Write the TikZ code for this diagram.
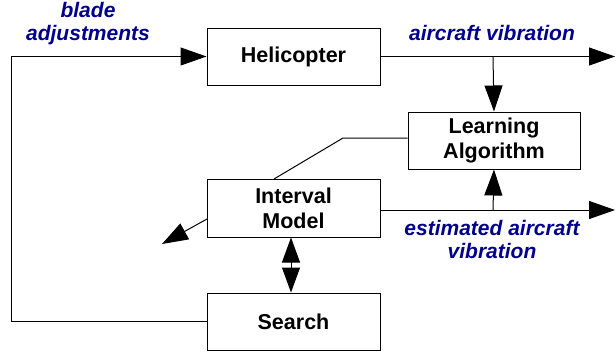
\documentclass[tikz,border=0pt]{standalone}
\usepackage{fontspec}
\setmainfont{Liberation Sans}
\usetikzlibrary{arrows.meta}
\definecolor{lblblue}{RGB}{0,0,140}
\begin{document}
\begin{tikzpicture}[x=1pt,y=-1pt,
  box/.style={draw=black,line width=1pt,minimum width=173pt,inner sep=0pt,align=center,
    font=\fontsize{21.5}{25}\selectfont\bfseries},
  conn/.style={line width=1pt,draw=black},
  tip/.style={-{Triangle[length=26pt,width=18pt]}},
  lbl/.style={text=lblblue,font=\fontsize{21}{23}\selectfont\bfseries\itshape,align=center,inner sep=0pt}]
\useasboundingbox (0,0) rectangle (615,356);
\node[box,minimum height=57pt] (heli) at (293.5,56.5) {Helicopter};
\node[box,minimum height=57pt,minimum width=172pt] (learn) at (494,140.5) {Learning\\Algorithm};
\node[box,minimum height=58pt] (model) at (293.5,208) {Interval\\Model};
\node[box,minimum height=57pt] (search) at (293.5,321.5) {Search};
\coordinate (outA) at (615,56.5);
\coordinate (outB) at (615,210);
\coordinate (brA) at (493,56.5);
\coordinate (brB) at (493,210);
\coordinate (loopT) at (11,56.5);
\coordinate (loopB) at (11,321.5);
\coordinate (diagA) at (274,179);
\coordinate (diagB) at (343,138);
\coordinate (freeend) at (162,244);
\coordinate (mdl) at (207,219);
% labels
\node[lbl] (lblade) at (88,24) {blade\\adjustments};
\node[lbl] (lair) at (492,33) {aircraft vibration};
\node[lbl] (lest) at (492,239) {estimated aircraft\\vibration};
% connectors
\draw[conn,tip] (heli.east) -- (outA);
\draw[conn,tip] (brA) -- (learn.north);
\draw[conn,tip] (model.east|-outB) -- (outB);
\draw[conn,tip] (brB) -- (learn.south);
\draw[conn,tip] (search.west) -- (loopB) -- (loopT) -- (heli.west);
\draw[conn] (diagA) -- (diagB) -- (learn.west|-diagB);
\draw[conn,tip] (mdl) -- (freeend);
\draw[conn,{Triangle[length=25pt,width=18pt]}-{Triangle[length=25pt,width=18pt]}] (model.south-|291,0) -- (search.north-|291,0);
\end{tikzpicture}
\end{document}
